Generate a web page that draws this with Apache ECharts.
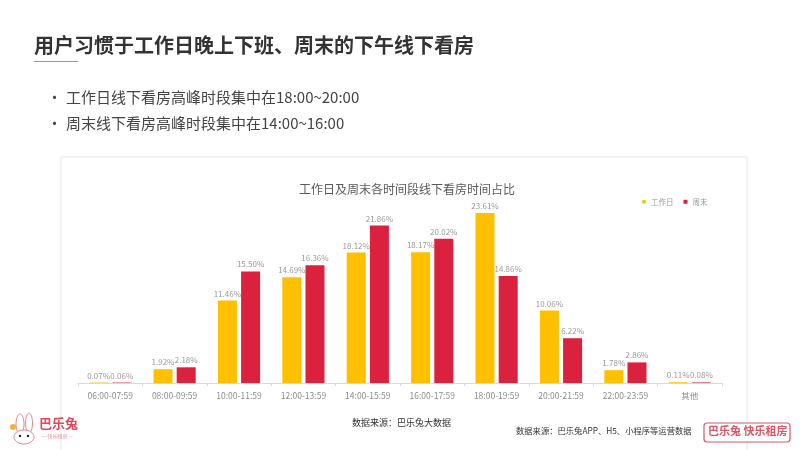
<!DOCTYPE html>
<html>
<head>
<meta charset="utf-8">
<script src="https://cdn.jsdelivr.net/npm/echarts@6/dist/echarts.min.js"></script>
<style>
html,body{margin:0;padding:0;background:#fff;}
#c{width:800px;height:450px;}
</style>
</head>
<body>
<div id="c"></div>
<script>
const categories = ['06:00-07:59','08:00-09:59','10:00-11:59','12:00-13:59','14:00-15:59','16:00-17:59','18:00-19:59','20:00-21:59','22:00-23:59','其他'];
const weekday = [0.07, 1.92, 11.46, 14.69, 18.12, 18.17, 23.61, 10.06, 1.78, 0.11];
const weekend = [0.06, 2.18, 15.50, 16.36, 21.86, 20.02, 14.86, 6.22, 2.86, 0.08];
const seriesNames = ['工作日', '周末'];

const FONT = '"Noto Sans CJK SC", "Noto Sans", sans-serif';
const chart = echarts.init(document.getElementById('c'));

const labelCfg = {
  show: true,
  position: 'top',
  distance: 3,
  color: '#9a9a9a',
  fontSize: 8,
  fontFamily: FONT,
  formatter: p => p.value.toFixed(2) + '%'
};

chart.setOption({
  animation: false,
  backgroundColor: '#ffffff',
  textStyle: { fontFamily: FONT },
  title: {
    text: '工作日及周末各时间段线下看房时间占比',
    left: 402,
    textAlign: 'center',
    top: 178,
    textStyle: { fontSize: 12, fontWeight: 'normal', color: '#5a5a5a', fontFamily: FONT }
  },
  legend: {
    data: [
      { name: '工作日', icon: 'circle' },
      { name: '周末', icon: 'rect' }
    ],
    left: 637,
    top: 193,
    itemWidth: 4,
    itemHeight: 4,
    itemGap: 10,
    textStyle: { fontSize: 7.5, color: '#9a9a9a', fontFamily: FONT }
  },
  grid: { left: 78, right: 78, top: 203, bottom: 67 },
  xAxis: {
    type: 'category',
    data: categories,
    axisLine: { lineStyle: { color: '#d9d9d9' } },
    axisTick: { show: true, length: 3, lineStyle: { color: '#d9d9d9' } },
    axisLabel: { color: '#8c8c8c', fontSize: 8.5, margin: 9, fontFamily: FONT, interval: 0 }
  },
  yAxis: {
    type: 'value',
    min: 0,
    max: 25,
    show: false,
    splitLine: { show: false }
  },
  series: [
    {
      name: seriesNames[0],
      type: 'bar',
      data: weekday,
      barWidth: 19,
      barGap: '22%',
      itemStyle: { color: '#FFC000' },
      label: labelCfg
    },
    {
      name: seriesNames[1],
      type: 'bar',
      data: weekend,
      barWidth: 19,
      itemStyle: { color: '#DA213D' },
      label: labelCfg
    }
  ],
  graphic: [
    { type: 'rect', shape: { x: 61, y: 157, width: 686, height: 300 }, style: { fill: 'none', stroke: '#e6e6e6', lineWidth: 1 }, z: -1 },
    { type: 'text', left: 34, top: 35, style: { text: '用户习惯于工作日晚上下班、周末的下午线下看房', fontSize: 20, fontWeight: 'bold', fill: '#333333', fontFamily: FONT } },
    { type: 'line', shape: { x1: 34, y1: 61.5, x2: 78, y2: 61.5 }, style: { stroke: '#9a9a9a', lineWidth: 1 } },
    { type: 'text', left: 47, top: 90, style: { text: '•', fontSize: 15, fill: '#444', fontFamily: FONT } },
    { type: 'text', left: 66, top: 90, style: { text: '工作日线下看房高峰时段集中在18:00~20:00', fontSize: 15, fill: '#444444', fontFamily: FONT } },
    { type: 'text', left: 47, top: 116, style: { text: '•', fontSize: 15, fill: '#444', fontFamily: FONT } },
    { type: 'text', left: 66, top: 116, style: { text: '周末线下看房高峰时段集中在14:00~16:00', fontSize: 15, fill: '#444444', fontFamily: FONT } },
    { type: 'text', left: 352, top: 418, style: { text: '数据来源：巴乐兔大数据', fontSize: 9, fill: '#333333', fontFamily: FONT } },
    { type: 'text', left: 516, top: 427, style: { text: '数据来源：巴乐兔APP、H5、小程序等运营数据', fontSize: 8.3, fill: '#333333', fontFamily: FONT } },
    { type: 'rect', shape: { x: 704, y: 423, width: 86, height: 19, r: 3 }, style: { fill: '#fff', stroke: '#d8586a', lineWidth: 1.2 } },
    { type: 'text', left: 708, top: 425, style: { text: '巴乐兔 快乐租房', fontSize: 11, fontWeight: 'bold', fill: '#d8586a', fontFamily: FONT } },
    { type: 'ellipse', shape: { cx: 20, cy: 424, rx: 4, ry: 10 }, style: { fill: '#fff', stroke: '#e38a95', lineWidth: 1 } },
    { type: 'ellipse', shape: { cx: 29, cy: 423, rx: 3.5, ry: 10 }, style: { fill: '#fff', stroke: '#e38a95', lineWidth: 1 } },
    { type: 'ellipse', shape: { cx: 24, cy: 437, rx: 10, ry: 7 }, style: { fill: '#fff', stroke: '#e38a95', lineWidth: 1 } },
    { type: 'circle', shape: { cx: 20, cy: 436, r: 1.3 }, style: { fill: '#333' } },
    { type: 'circle', shape: { cx: 28, cy: 436, r: 1.3 }, style: { fill: '#333' } },
    { type: 'circle', shape: { cx: 13, cy: 427, r: 3 }, style: { fill: '#f5b040' } },
    { type: 'text', left: 39, top: 417, style: { text: '巴乐兔', fontSize: 13, fontWeight: 'bold', fill: '#e0485c', fontFamily: FONT } },
    { type: 'text', left: 42, top: 434, style: { text: '— 快乐租房 —', fontSize: 5, fill: '#e38a95', fontFamily: FONT } }
  ]
});
</script>
</body>
</html>
